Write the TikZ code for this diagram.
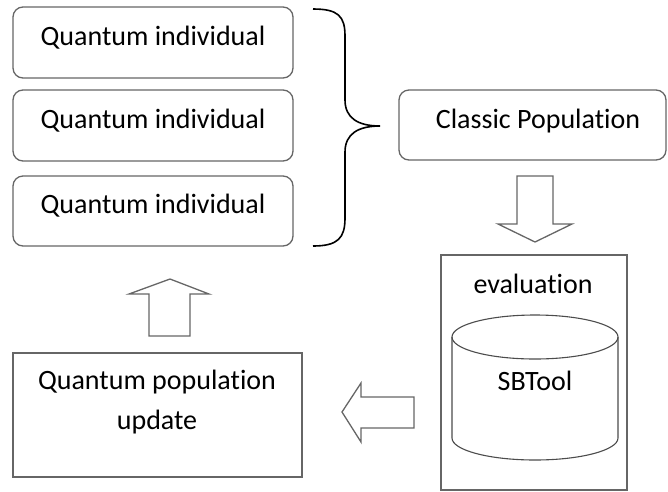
\documentclass[tikz,border=0pt]{standalone}
\usepackage{fontspec}
\setmainfont{Carlito}[Ligatures={NoCommon}]
\begin{document}
\begin{tikzpicture}[x=1pt,y=-1pt,
  box/.style={draw=black!60, line width=1.3pt, rounded corners=10pt},
  sqbox/.style={draw=black!60, line width=1.3pt},
  blockarrow/.style={draw=black!60, line width=1.3pt, line join=miter, fill=white},
  lbl/.style={font=\fontsize{28}{32}\selectfont, text=black, inner sep=0pt}]
\useasboundingbox (0,0) rectangle (668,491);
% quantum individuals
\draw[box] (13,7) rectangle (293,78);
\draw[box] (13,90) rectangle (293,161);
\draw[box] (13,176) rectangle (293,246);
\node[lbl] (q1) at (153,38) {Quantum individual};
\node[lbl] (q2) at (153,121) {Quantum individual};
\node[lbl] (q3) at (153,206) {Quantum individual};
% brace
\draw[black, line width=1.6pt] (313,9) .. controls (338,9) and (345,16) .. (345,36) -- (345,100)
  .. controls (345,118) and (358,126) .. (380,126)
  .. controls (358,126) and (345,134) .. (345,152) -- (345,218)
  .. controls (345,238) and (338,246) .. (313,246);
% classic population
\draw[box] (399,90) rectangle (666,160);
\node[lbl] (cp) at (538,121) {Classic Population};
% down arrow
\draw[blockarrow] (517,176) -- (553,176) -- (553,224) -- (572,224) -- (535,242) -- (498,224) -- (517,224) -- cycle;
% evaluation box
\draw[sqbox] (441,255) rectangle (627,490);
\node[lbl] (ev) at (533,284) {evaluation};
% cylinder
\draw[black!70, line width=1.1pt] (452,337) -- (452,438) arc[start angle=180, end angle=360, x radius=83, y radius=-22] -- (618,337);
\draw[black!70, line width=1.1pt] (535,337) ellipse[x radius=83, y radius=22];
\node[lbl] (sb) at (535,381) {SBTool};
% left arrow
\draw[blockarrow] (414,397) -- (414,428) -- (361,428) -- (361,442) -- (342,412) -- (361,383) -- (361,397) -- cycle;
% update box
\draw[sqbox] (13,353) rectangle (302,477);
\node[lbl, align=center] (up) at (157,402) {Quantum population\\[8pt]update};
% up arrow
\draw[blockarrow] (149,336) -- (149,294) -- (129,294) -- (170,279) -- (209,294) -- (190,294) -- (190,336) -- cycle;
\end{tikzpicture}
\end{document}
